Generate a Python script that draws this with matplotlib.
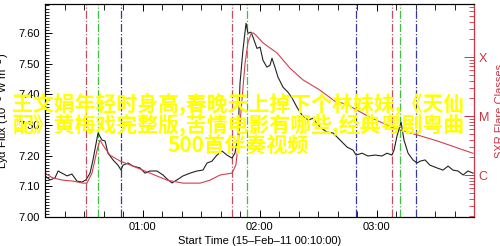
import matplotlib
matplotlib.use("Agg")
from matplotlib import pyplot as plt
from matplotlib.ticker import MultipleLocator, FixedLocator, LogLocator, NullFormatter

# time in minutes after 00:00 (15-Feb-11)
lya_t = [10.0, 12.6, 15.1, 16.7, 18.7, 21.3, 23.8, 26.4, 29.0, 31.0, 33.1, 34.6, 37.2, 39.2,
         40.8, 42.3, 44.9, 47.4, 49.0, 50.0, 52.6, 55.1, 58.7, 61.3, 63.8, 67.4, 70.5, 73.1,
         75.1, 77.7, 80.8, 84.4, 87.9, 91.0, 93.1, 95.6, 98.2, 100.8, 103.3, 105.9, 107.4,
         109.0, 110.0, 111.5, 113.1, 114.1, 115.6, 116.7, 118.7, 120.3, 121.8, 123.8, 125.4,
         126.4, 127.9, 129.5, 132.1, 134.6, 136.7, 139.2, 141.8, 144.9, 147.4, 151.0, 154.6,
         157.7, 161.3, 164.9, 168.0, 169.5, 172.6, 175.6, 179.2, 182.8, 185.4, 187.9, 189.0,
         190.5, 192.6, 194.1, 196.2, 198.7, 200.8, 202.3, 204.9, 207.4, 211.0, 214.1, 216.7,
         219.2, 221.8, 224.4, 226.9, 229.5]
# Lyman alpha flux (10^-3 W m^-2)
lya_flux = [7.134, 7.121, 7.127, 7.150, 7.143, 7.134, 7.140, 7.117, 7.114, 7.121, 7.143, 7.186,
            7.274, 7.251, 7.248, 7.208, 7.186, 7.169, 7.153, 7.169, 7.176, 7.166, 7.160, 7.143,
            7.150, 7.150, 7.137, 7.121, 7.111, 7.121, 7.134, 7.143, 7.150, 7.153, 7.176, 7.182,
            7.202, 7.215, 7.202, 7.192, 7.208, 7.264, 7.436, 7.544, 7.632, 7.599, 7.603, 7.586,
            7.550, 7.554, 7.511, 7.489, 7.495, 7.518, 7.489, 7.456, 7.423, 7.407, 7.388, 7.358,
            7.332, 7.316, 7.322, 7.293, 7.277, 7.274, 7.251, 7.228, 7.218, 7.202, 7.208, 7.199,
            7.202, 7.199, 7.208, 7.202, 7.218, 7.264, 7.309, 7.251, 7.208, 7.186, 7.176, 7.182,
            7.186, 7.169, 7.160, 7.153, 7.166, 7.153, 7.150, 7.137, 7.150, 7.143]

sxr_t = [10.0, 14.1, 19.2, 24.4, 29.5, 31.5, 34.1, 36.7, 38.2, 39.7, 43.3, 48.5, 55.1, 63.8,
         72.6, 80.8, 89.5, 94.6, 99.7, 105.9, 107.9, 109.5, 111.0, 112.6, 114.1, 115.6, 116.7,
         118.2, 121.8, 129.0, 135.6, 142.3, 151.0, 158.7, 164.9, 170.0, 176.7, 183.3, 188.5,
         200.8, 211.0, 221.3, 229.5]
# GOES SXR flux (W m^-2)
sxr_flux = [1.08e-6, 8.9e-7, 8.2e-7, 7.9e-7, 7.3e-7, 7.3e-7, 1.08e-6, 2.65e-6, 3.92e-6, 3.22e-6,
            2.18e-6, 1.73e-6, 1.42e-6, 1.08e-6, 8.2e-7, 7.3e-7, 7.3e-7, 8.2e-7, 1.0e-6, 1.08e-6,
            1.48e-6, 4.8e-6, 1.86e-5, 7.9e-5, 1.78e-4, 2.45e-4, 2.57e-4, 2.34e-4, 1.74e-4,
            1.17e-4, 6.5e-5, 4.1e-5, 2.75e-5, 1.78e-5, 1.58e-5, 1.26e-5, 9.5e-6, 7.6e-6, 6.3e-6,
            4.8e-6, 3.8e-6, 2.9e-6, 2.34e-6]

# flare marker times (start / peak / end), minutes after 00:00
start_t = [31.0, 106.0, 188.0]
peak_t = [37.0, 113.5, 192.0]
end_t = [49.0, 169.5, 200.0]

hour_ticks = [60, 120, 180]
hour_labels = ["01:00", "02:00", "03:00"]
class_levels = [1e-6, 1e-5, 1e-4]
class_labels = ["C", "M", "X"]

overlay = ["王文娟年轻时身高,春晚天上掉下个林妹妹,《天仙",
           "配》黄梅戏完整版,苦情电影有哪些,经典粤剧粤曲",
           "500首伴奏视频"]

plt.rcParams['font.family'] = ['Liberation Sans', 'DejaVu Sans']
red = '#cc3344'

fig = plt.figure(figsize=(5.0, 2.46), dpi=100)
ax = fig.add_axes([0.09, 0.118, 0.858, 0.866])
ax2 = ax.twinx()

for t in start_t:
    ax.axvline(t, color='#c05060', lw=0.9, ls='-.')
for t in peak_t:
    ax.axvline(t, color='#40c040', lw=0.9, ls='-.')
for t in end_t:
    ax.axvline(t, color='#3838a0', lw=0.9, ls='-.')

ax.plot(lya_t, lya_flux, color='#222222', lw=0.8)
ax2.plot(sxr_t, sxr_flux, color='#d04050', lw=0.8)

ax.set_xlim(10, 230)
ax.set_ylim(7.0, 7.695)
ax2.set_yscale('log')
ax2.set_ylim(10**-6.71, 10**-3.1)

ax.xaxis.set_major_locator(FixedLocator(hour_ticks))
ax.set_xticklabels(hour_labels)
ax.xaxis.set_minor_locator(MultipleLocator(10))
ax.yaxis.set_major_locator(MultipleLocator(0.1))
ax.yaxis.set_minor_locator(MultipleLocator(0.01))
ax.yaxis.set_major_formatter(plt.FormatStrFormatter('%.2f'))
ax.tick_params(which='both', direction='in', top=True, right=False, labelsize=8)
ax.tick_params(which='major', length=5, width=0.7)
ax.tick_params(which='minor', length=3, width=0.6)
ax.tick_params(axis='x', which='minor', length=4)

ax2.set_yticks(class_levels)
ax2.set_yticklabels(class_labels)
ax2.yaxis.set_minor_locator(LogLocator(base=10, subs=range(2, 10), numticks=20))
ax2.yaxis.set_minor_formatter(NullFormatter())
ax2.tick_params(which='both', direction='in', colors=red, labelsize=9)
ax2.tick_params(which='major', length=7, width=0.7)
ax2.tick_params(which='minor', length=3.5, width=0.6)
ax2.spines['right'].set_color(red)

for s in ax.spines.values():
    s.set_linewidth(0.8)
ax2.spines['right'].set_linewidth(0.8)

ax.set_xlabel('Start Time (15\u2013Feb\u201311 00:10:00)', fontsize=8, labelpad=3)
ax.set_ylabel('Ly\u03b1 Flux (10$^{-3}$ W m$^{-2}$)', fontsize=8, labelpad=5)
ax2.set_ylabel('SXR Flare Classes', fontsize=8, color=red, labelpad=4)

for i, line in enumerate(overlay):
    fig.text(0.476, 1 - (104 + 21 * i) / 246, line, color='#ffff00', fontsize=15,
             fontweight='bold', ha='center', va='center',
             family=['Noto Sans CJK SC', 'DejaVu Sans'])

fig.savefig('out.png', dpi=100)
